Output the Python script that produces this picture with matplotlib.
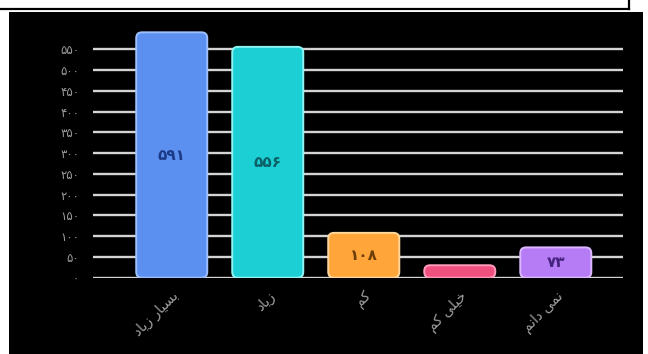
import matplotlib
matplotlib.use("Agg")
import matplotlib.pyplot as plt
from matplotlib.patches import FancyBboxPatch, Rectangle
from matplotlib.lines import Line2D

categories = ["بسیار زیاد", "زیاد", "کم", "خیلی کم", "نمی دانم"]
values = [591, 556, 108, 30, 73]
colors = ["#5b8ff0", "#1ccfd4", "#ffa53a", "#f0507e", "#b57cf5"]
edge_colors = ["#9ec0ff", "#8ff4f4", "#ffd79a", "#ff9cbc", "#dcb8ff"]
text_colors = ["#1c3a86", "#0b5f66", "#6e3e08", "#7a1030", "#46237e"]
yticks = list(range(0, 551, 50))

# presentation forms (iso, final, initial, medial) - matplotlib does no arabic shaping
FORMS = {
    "ا": ("\uFE8D", "\uFE8E", None, None),
    "ب": ("\uFE8F", "\uFE90", "\uFE91", "\uFE92"),
    "خ": ("\uFEA5", "\uFEA6", "\uFEA7", "\uFEA8"),
    "د": ("\uFEA9", "\uFEAA", None, None),
    "ر": ("\uFEAD", "\uFEAE", None, None),
    "ز": ("\uFEAF", "\uFEB0", None, None),
    "س": ("\uFEB1", "\uFEB2", "\uFEB3", "\uFEB4"),
    "ک": ("\uFED9", "\uFEDA", "\uFEDB", "\uFEDC"),
    "ل": ("\uFEDD", "\uFEDE", "\uFEDF", "\uFEE0"),
    "م": ("\uFEE1", "\uFEE2", "\uFEE3", "\uFEE4"),
    "ن": ("\uFEE5", "\uFEE6", "\uFEE7", "\uFEE8"),
    "ی": ("\uFEEF", "\uFEF0", "\uFEF3", "\uFEF4"),
}


def shape(word):
    out = []
    for i, ch in enumerate(word):
        if ch not in FORMS:
            out.append(ch)
            continue
        prev = word[i - 1] if i > 0 else None
        nxt = word[i + 1] if i + 1 < len(word) else None
        jp = prev in FORMS and FORMS[prev][2] is not None
        jn = nxt in FORMS and FORMS[ch][2] is not None
        iso, fin, ini, med = FORMS[ch]
        if jp and jn:
            out.append(med)
        elif jp:
            out.append(fin)
        elif jn:
            out.append(ini)
        else:
            out.append(iso)
    return "".join(reversed(out))


def fa_num(n):
    return str(n).translate(str.maketrans("0123456789", "۰۱۲۳۴۵۶۷۸۹"))


W, H = 648, 354
fig = plt.figure(figsize=(W / 100, H / 100), dpi=100, facecolor="white")

# black panel and the thin frame line at the top
fig.patches.append(Rectangle((9 / W, 0), 634 / W, 342 / H, transform=fig.transFigure,
                             facecolor="black", edgecolor="none", zorder=-5))
fig.lines.append(Line2D([0, 629 / W], [1 - 8.5 / H, 1 - 8.5 / H], transform=fig.transFigure,
                        color="black", lw=1.6))
fig.lines.append(Line2D([629 / W, 629 / W], [1, 1 - 8.5 / H], transform=fig.transFigure,
                        color="black", lw=1.6))

px_per_unit = 0.4152
ax = fig.add_axes([93 / W, (H - 277.7) / H, 530 / W, 600 * px_per_unit / H])
ax.set_facecolor("none")
ax.set_xlim(-0.82, 4.70)
ax.set_ylim(0, 600)

for y in yticks:
    ax.axhline(y, color="#d4d4d4", lw=1.7, zorder=1)

x = list(range(len(categories)))
bars = ax.bar(x, values, width=0.74, color=colors, zorder=2)
aspect = (1 / px_per_unit) / (1 / 96)
for b, c, ec in zip(bars, colors, edge_colors):
    b.set_visible(False)
    p = FancyBboxPatch((b.get_x(), b.get_y()), b.get_width(), b.get_height(),
                       boxstyle="round,pad=0,rounding_size=0.06", mutation_aspect=aspect,
                       facecolor=c, edgecolor=ec, lw=1.4, zorder=3)
    ax.add_patch(p)

for xi, v, tc in zip(x, values, text_colors):
    if v >= 50:
        ax.text(xi, v / 2, fa_num(v), ha="center", va="center", color=tc,
                fontsize=11, fontweight="bold", zorder=4)

ax.set_yticks(yticks)
ax.set_yticklabels([fa_num(t) for t in yticks], color="#9a9a9a", fontsize=8.5)
ax.set_xticks(x)
ax.set_xticklabels([shape(c) for c in categories], rotation=45, ha="right",
                   rotation_mode="anchor", color="#a0a0a0", fontsize=10)
ax.tick_params(length=0)
ax.tick_params(axis="y", pad=10)
ax.tick_params(axis="x", pad=8)
for s in ax.spines.values():
    s.set_visible(False)

fig.savefig("out.png", dpi=100, facecolor="white")
